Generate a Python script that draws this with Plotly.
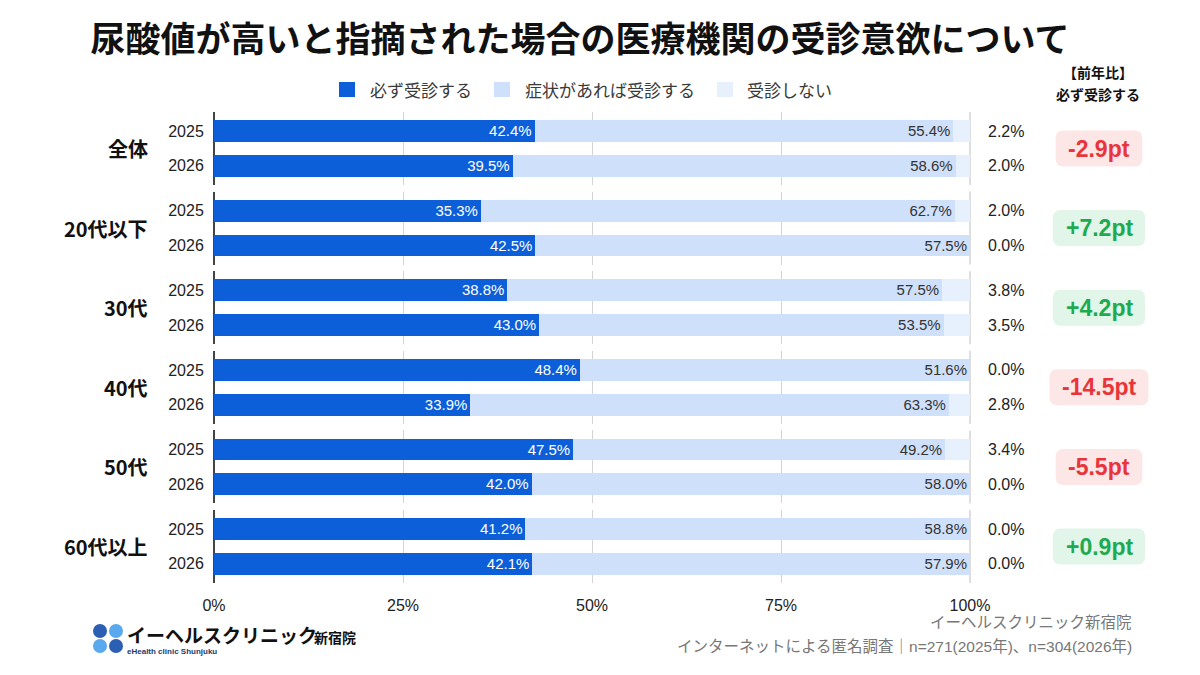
import plotly.graph_objects as go
from plotly.subplots import make_subplots

# ---------------- data ----------------
groups = ["全体", "20代以下", "30代", "40代", "50代", "60代以上"]
years = ["2025", "2026"]
must_visit = [[42.4, 39.5], [35.3, 42.5], [38.8, 43.0], [48.4, 33.9], [47.5, 42.0], [41.2, 42.1]]
if_symptom = [[55.4, 58.6], [62.7, 57.5], [57.5, 53.5], [51.6, 63.3], [49.2, 58.0], [58.8, 57.9]]
no_visit = [[2.2, 2.0], [2.0, 0.0], [3.8, 3.5], [0.0, 2.8], [3.4, 0.0], [0.0, 0.0]]
yoy_change = [-2.9, 7.2, 4.2, -14.5, -5.5, 0.9]
series_names = ["必ず受診する", "症状があれば受診する", "受診しない"]
x_ticks = [0, 25, 50, 75, 100]
x_tick_labels = ["0%", "25%", "50%", "75%", "100%"]

# ---------------- layout geometry (pixels) ----------------
W, H = 1200, 675
L, R = 214, 970          # plot left/right px
T, B = 112, 583          # plot top/bottom px
GAP = 6.6
PH = B - T
ROW_H = (PH - 5 * GAP) / 6

def X(px):
    return (px - L) / (R - L)

def Y(py):
    return (B - py) / PH

colors = ["#0c5fd8", "#cfe0fa", "#e7f0fd"]
CJK = "Noto Sans CJK JP"
NUMF = "Liberation Sans, Arial, Noto Sans CJK JP"

fig = make_subplots(rows=6, cols=1, shared_xaxes=True, vertical_spacing=GAP / PH)

def yref_of(r, dom=False):
    s = "y" if r == 1 else f"y{r}"
    return s + (" domain" if dom else "")

for i, g in enumerate(groups):
    r = i + 1
    data = [must_visit[i], if_symptom[i], no_visit[i]]
    for s in range(3):
        kw = {}
        if s < 2:
            kw = dict(text=[f"{v:.1f}%" for v in data[s]], textposition="inside",
                      insidetextanchor="end",
                      textfont=dict(color="white" if s == 0 else "#333333", size=16, family=NUMF))
        fig.add_trace(go.Bar(
            x=data[s], y=years, orientation="h", name=series_names[s],
            marker=dict(color=colors[s], line=dict(width=0)),
            width=0.63, showlegend=False, hoverinfo="skip", **kw), row=r, col=1)
    # third-segment labels outside the bar (category index j on the year axis)
    for j, yr in enumerate(years):
        fig.add_annotation(x=1, xref="paper", y=j, yref=yref_of(r),
                           text=f"{no_visit[i][j]:.1f}%", showarrow=False,
                           xanchor="left", yanchor="middle", xshift=16,
                           font=dict(size=16, color="#222222", family=NUMF))
    # 100% gridline segment
    fig.add_shape(type="line", xref="paper", x0=1, x1=1, yref=yref_of(r, True), y0=0, y1=1,
                  line=dict(color="#c8c8c8", width=1.2), layer="below")
    # group label
    fig.add_annotation(x=X(150), xref="paper", y=0.5, yref=yref_of(r, True),
                       text=f"<b>{g}</b>", showarrow=False, xanchor="right", yanchor="middle",
                       font=dict(size=20, color="#111111", family=CJK))
    # badge
    v = yoy_change[i]
    txt = f"{v:+.1f}pt"
    up = v >= 0
    cw = {"-": 0.333, "+": 0.584, ".": 0.278, "p": 0.611, "t": 0.333}
    tw = sum(cw.get(c, 0.556) for c in txt) * 22
    bw = tw + 28
    cx = 1099
    x0, x1 = X(cx - bw / 2), X(cx + bw / 2)
    hh = 18 / ROW_H
    y0, y1 = 0.5 - hh, 0.5 + hh
    rx, ry = 8 / (R - L), 8 / ROW_H
    path = (f"M {x0+rx},{y0} L {x1-rx},{y0} Q {x1},{y0} {x1},{y0+ry} L {x1},{y1-ry} "
            f"Q {x1},{y1} {x1-rx},{y1} L {x0+rx},{y1} Q {x0},{y1} {x0},{y1-ry} "
            f"L {x0},{y0+ry} Q {x0},{y0} {x0+rx},{y0} Z")
    fig.add_shape(type="path", path=path, xref="paper", yref=yref_of(r, True),
                  fillcolor="#e2f5e9" if up else "#fde6e6", line=dict(width=0), layer="below")
    fig.add_annotation(x=X(cx), xref="paper", y=0.5, yref=yref_of(r, True),
                       text=f"<b>{txt}</b>", showarrow=False, xanchor="center", yanchor="middle",
                       font=dict(size=23, color="#1eaa50" if up else "#e8353b", family=NUMF))

    fig.update_yaxes(row=r, col=1, type="category", categoryorder="array", categoryarray=years,
                     range=[1.55, -0.55], showgrid=False, zeroline=False, showline=False,
                     ticks="outside", ticklen=6, tickcolor="rgba(0,0,0,0)",
                     tickfont=dict(size=16, color="#222222", family=NUMF), fixedrange=True)
    fig.update_xaxes(row=r, col=1, range=[0, 100], tickmode="array", tickvals=x_ticks,
                     ticktext=x_tick_labels,
                     showgrid=True, gridcolor="#d4d4d4", gridwidth=1,
                     zeroline=True, zerolinecolor="#444444", zerolinewidth=1.5,
                     showline=False, ticks="outside", ticklen=8, tickcolor="rgba(0,0,0,0)",
                     tickfont=dict(size=16, color="#222222", family=NUMF), fixedrange=True)

# manual legend
leg_marker_x = [339, 494, 717]
leg_text_x = [368, 523, 745]
for s in range(3):
    fig.add_shape(type="rect", xref="paper", yref="paper",
                  x0=X(leg_marker_x[s]), x1=X(leg_marker_x[s] + 16), y0=Y(97), y1=Y(82),
                  fillcolor=colors[s], line=dict(width=0))
    fig.add_annotation(x=X(leg_text_x[s]), y=Y(89), xref="paper", yref="paper", text=series_names[s],
                       showarrow=False, xanchor="left", yanchor="middle",
                       font=dict(size=17, color="#3a3a3a", family=CJK))

# header texts
fig.add_annotation(x=X(1098), y=Y(72), xref="paper", yref="paper", text="<b>【前年比】</b>",
                   showarrow=False, xanchor="center", yanchor="middle",
                   font=dict(size=14, color="#111111", family=CJK))
fig.add_annotation(x=X(1098), y=Y(94), xref="paper", yref="paper", text="<b>必ず受診する</b>",
                   showarrow=False, xanchor="center", yanchor="middle",
                   font=dict(size=14, color="#111111", family=CJK))

# footer
fig.add_annotation(x=X(1134), y=Y(622), xref="paper", yref="paper", text="イーヘルスクリニック新宿院",
                   showarrow=False, xanchor="right", yanchor="middle",
                   font=dict(size=15.5, color="#777777", family=NUMF))
fig.add_annotation(x=X(1134), y=Y(646), xref="paper", yref="paper",
                   text="インターネットによる匿名調査｜n=271(2025年)、n=304(2026年)",
                   showarrow=False, xanchor="right", yanchor="middle",
                   font=dict(size=15.5, color="#777777", family=NUMF))

# logo
rad = 7
for (cxp, cyp, col) in [(100, 631, "#2a5fb4"), (116, 631, "#5aa8ee"), (100, 646, "#5aa8ee"), (116, 646, "#2a5fb4")]:
    fig.add_shape(type="circle", xref="paper", yref="paper",
                  x0=X(cxp - rad), x1=X(cxp + rad), y0=Y(cyp + rad), y1=Y(cyp - rad),
                  fillcolor=col, line=dict(width=0))
fig.add_annotation(x=X(125), y=Y(634), xref="paper", yref="paper", text="<b>イーヘルスクリニック</b>",
                   showarrow=False, xanchor="left", yanchor="middle",
                   font=dict(size=19, color="#111111", family=CJK))
fig.add_annotation(x=X(312), y=Y(637), xref="paper", yref="paper", text="<b>新宿院</b>",
                   showarrow=False, xanchor="left", yanchor="middle",
                   font=dict(size=14, color="#111111", family=CJK))
fig.add_annotation(x=X(125), y=Y(651), xref="paper", yref="paper", text="<b>eHealth clinic Shunjuku</b>",
                   showarrow=False, xanchor="left", yanchor="middle",
                   font=dict(size=8, color="#1e3a6e", family=NUMF))

fig.update_layout(
    width=W, height=H,
    margin=dict(l=L, r=W - R, t=T, b=H - B),
    barmode="stack",
    paper_bgcolor="white", plot_bgcolor="white",
    font=dict(family=NUMF, color="#222222"),
    title=dict(text="<b>尿酸値が高いと指摘された場合の医療機関の受診意欲について</b>",
               x=580 / W, xanchor="center", y=1 - 40 / H, yanchor="middle",
               font=dict(size=35, color="#111111", family=CJK)),
    showlegend=False,
)

fig.write_html("out.html")
